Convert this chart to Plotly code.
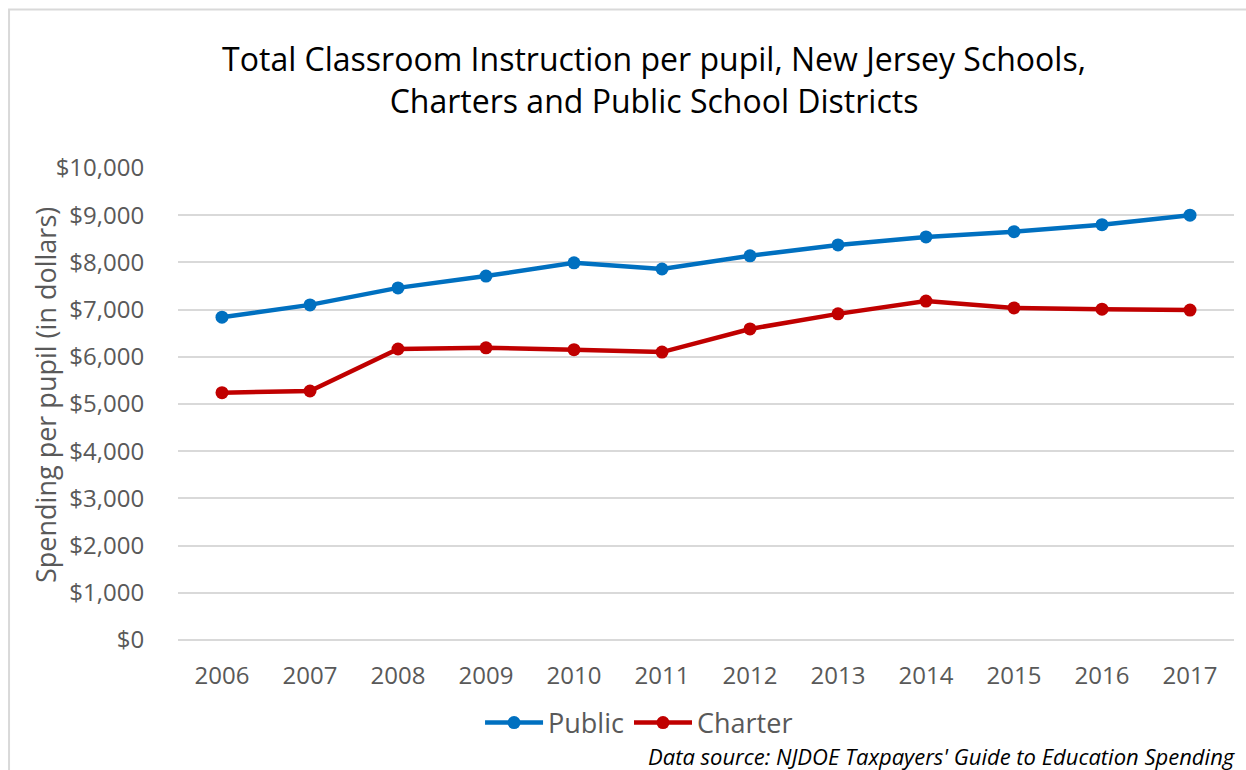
import plotly.graph_objects as go

years = ["2006", "2007", "2008", "2009", "2010", "2011",
         "2012", "2013", "2014", "2015", "2016", "2017"]
public = [6840, 7100, 7460, 7710, 7990, 7860, 8140, 8370, 8540, 8650, 8800, 9000]
charter = [5240, 5275, 6165, 6190, 6150, 6100, 6590, 6910, 7180, 7035, 7010, 6990]
y_ticks = [0, 1000, 2000, 3000, 4000, 5000, 6000, 7000, 8000, 9000, 10000]
y_tick_text = ["$0", "$1,000", "$2,000", "$3,000", "$4,000", "$5,000",
               "$6,000", "$7,000", "$8,000", "$9,000", "$10,000"]

FONT = "Open Sans"
GRAY = "#595959"
GRID = "#d9d9d9"

fig = go.Figure()
fig.add_trace(go.Scatter(
    x=years, y=public, name="Public", mode="lines+markers",
    line=dict(color="#0070C0", width=4.5),
    marker=dict(color="#0070C0", size=13),
))
fig.add_trace(go.Scatter(
    x=years, y=charter, name="Charter", mode="lines+markers",
    line=dict(color="#C00000", width=4.5),
    marker=dict(color="#C00000", size=13),
))

fig.update_layout(
    width=1246, height=770,
    margin=dict(l=178, r=12, t=168, b=130),
    paper_bgcolor="white", plot_bgcolor="white",
    font=dict(family=FONT, color=GRAY),
    title=dict(
        text="Total Classroom Instruction per pupil, New Jersey Schools,<br>Charters and Public School Districts",
        font=dict(family=FONT, size=32, color="black"),
        x=0.4508, xref="paper", xanchor="center",
        y=1 - 71 / 770, yref="container", yanchor="middle",
    ),
    showlegend=True,
    legend=dict(
        orientation="h", x=0.4366, xanchor="center",
        y=-0.176, yanchor="middle",
        font=dict(family=FONT, size=27, color=GRAY),
        itemwidth=58, bgcolor="rgba(0,0,0,0)",
    ),
    xaxis=dict(
        type="category", range=[-0.5, 11.5],
        showgrid=False, showline=False, zeroline=False,
        ticks="outside", ticklen=14, tickcolor="rgba(0,0,0,0)",
        tickfont=dict(family=FONT, size=24, color=GRAY),
    ),
    yaxis=dict(
        range=[0, 10000], tickvals=y_ticks, ticktext=y_tick_text,
        showgrid=True, gridcolor=GRID, gridwidth=1.5,
        zeroline=True, zerolinecolor=GRID, zerolinewidth=1.5,
        showline=False,
        ticks="outside", ticklen=28, tickcolor="rgba(0,0,0,0)",
        tickfont=dict(family=FONT, size=24, color=GRAY),
    ),
    annotations=[
        dict(
            text="Spending per pupil (in dollars)", textangle=-90,
            xref="paper", yref="paper", x=-0.126, y=0.519,
            xanchor="center", yanchor="middle", showarrow=False,
            font=dict(family=FONT, size=27, color=GRAY),
        ),
        dict(
            text="<i>Data source: NJDOE Taxpayers' Guide to Education Spending</i>",
            xref="paper", yref="paper", x=1.0038, y=-0.246,
            xanchor="right", yanchor="middle", showarrow=False,
            font=dict(family=FONT, size=22, color="black"),
        ),
    ],
    shapes=[
        dict(
            type="rect", xref="paper", yref="paper",
            x0=-0.160, x1=1.2, y0=-0.5, y1=1.3358,
            line=dict(color=GRID, width=2), fillcolor="rgba(0,0,0,0)",
            layer="below",
        ),
    ],
)

fig.write_html("out.html")
